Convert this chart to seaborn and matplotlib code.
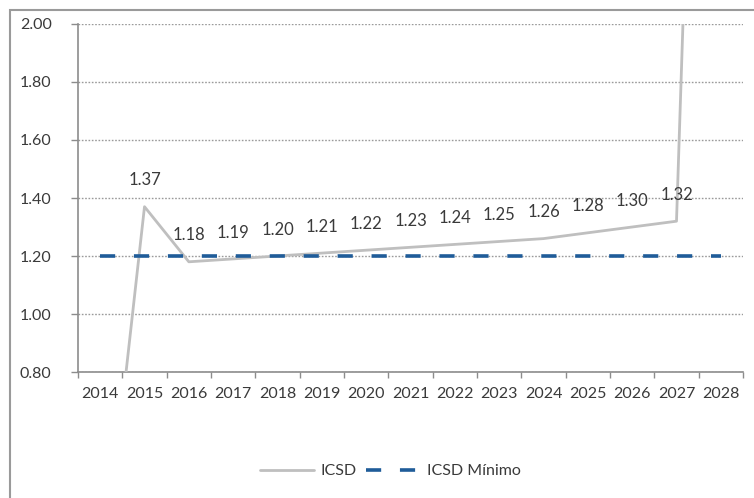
import numpy as np
import pandas as pd
import matplotlib
matplotlib.use("Agg")
import matplotlib.pyplot as plt
import seaborn as sns
from matplotlib.patches import Rectangle

years = ["2014", "2015", "2016", "2017", "2018", "2019", "2020", "2021",
         "2022", "2023", "2024", "2025", "2026", "2027", "2028"]
icsd = [0.00, 1.37, 1.18, 1.19, 1.20, 1.21, 1.22, 1.23, 1.24, 1.25, 1.26,
        1.28, 1.30, 1.32, 6.00]
icsd_min = [1.20] * len(years)
y_ticks = [0.80, 1.00, 1.20, 1.40, 1.60, 1.80, 2.00]

sns.set_theme(style="white")
plt.rcParams['font.family'] = ['Lato', 'DejaVu Sans']

df = pd.DataFrame({"pos": np.arange(len(years)), "year": years,
                   "ICSD": icsd, "ICSD Mínimo": icsd_min})

fig = plt.figure(figsize=(7.54, 4.98), dpi=100)
ax = fig.add_axes([78/754, 1 - 372/498, (743 - 78)/754, (372 - 24)/498])

txt = "#3A3A3A"
sns.lineplot(data=df, x="pos", y="ICSD", ax=ax, color="#BFBFBF", lw=2.0,
             label="ICSD", zorder=3)
sns.lineplot(data=df, x="pos", y="ICSD Mínimo", ax=ax, color="#1F5C99", lw=2.6,
             label="ICSD Mínimo", zorder=4)
ax.lines[1].set_dashes([4.2, 5.2])

ax.set_xlim(-0.5, len(years) - 0.5)
ax.set_ylim(y_ticks[0], y_ticks[-1])
ax.set_yticks(y_ticks)
ax.set_yticklabels([f"{v:.2f}" for v in y_ticks], color=txt, fontsize=11.5)
ax.set_xticks(df["pos"])
ax.set_xticklabels(years, color=txt, fontsize=11.5)
ax.set_xticks(np.arange(-0.5, len(years), 1.0), minor=True)
ax.tick_params(axis="x", which="major", length=0, pad=11)
ax.tick_params(axis="x", which="minor", length=4, width=1, color="#8C8C8C",
               direction="out", bottom=True)
ax.tick_params(axis="y", which="major", length=5, width=1, color="#8C8C8C",
               direction="out", left=True, pad=14)
ax.set_xlabel("")
ax.set_ylabel("")

ax.grid(axis="y", color="#9A9A9A", lw=1.0, ls=(0, (1.2, 1.2)))
ax.set_axisbelow(True)
for s in ["top", "right"]:
    ax.spines[s].set_visible(False)
for s in ["left", "bottom"]:
    ax.spines[s].set_color("#8C8C8C")
    ax.spines[s].set_linewidth(1.2)

for p, v in zip(df["pos"], df["ICSD"]):
    if y_ticks[0] < v < y_ticks[-1]:
        ax.annotate(f"{v:.2f}", (p, v), xytext=(0, 19), textcoords="offset points",
                    ha="center", va="center", fontsize=12, color=txt)

leg = ax.legend(loc="center", bbox_to_anchor=(390/754, 1 - 471/498),
                bbox_transform=fig.transFigure, ncol=2, frameon=False,
                fontsize=11.5, handlelength=3.4, handletextpad=0.4,
                columnspacing=0.6)
for t in leg.get_texts():
    t.set_color(txt)

fig.patches.append(Rectangle((10/754, -0.1), 1.2, 1 - 10/498 + 0.1,
                             transform=fig.transFigure, fill=False,
                             ec="#9A9A9A", lw=1.5, zorder=0))

fig.savefig("out.png", dpi=100, facecolor="white")
